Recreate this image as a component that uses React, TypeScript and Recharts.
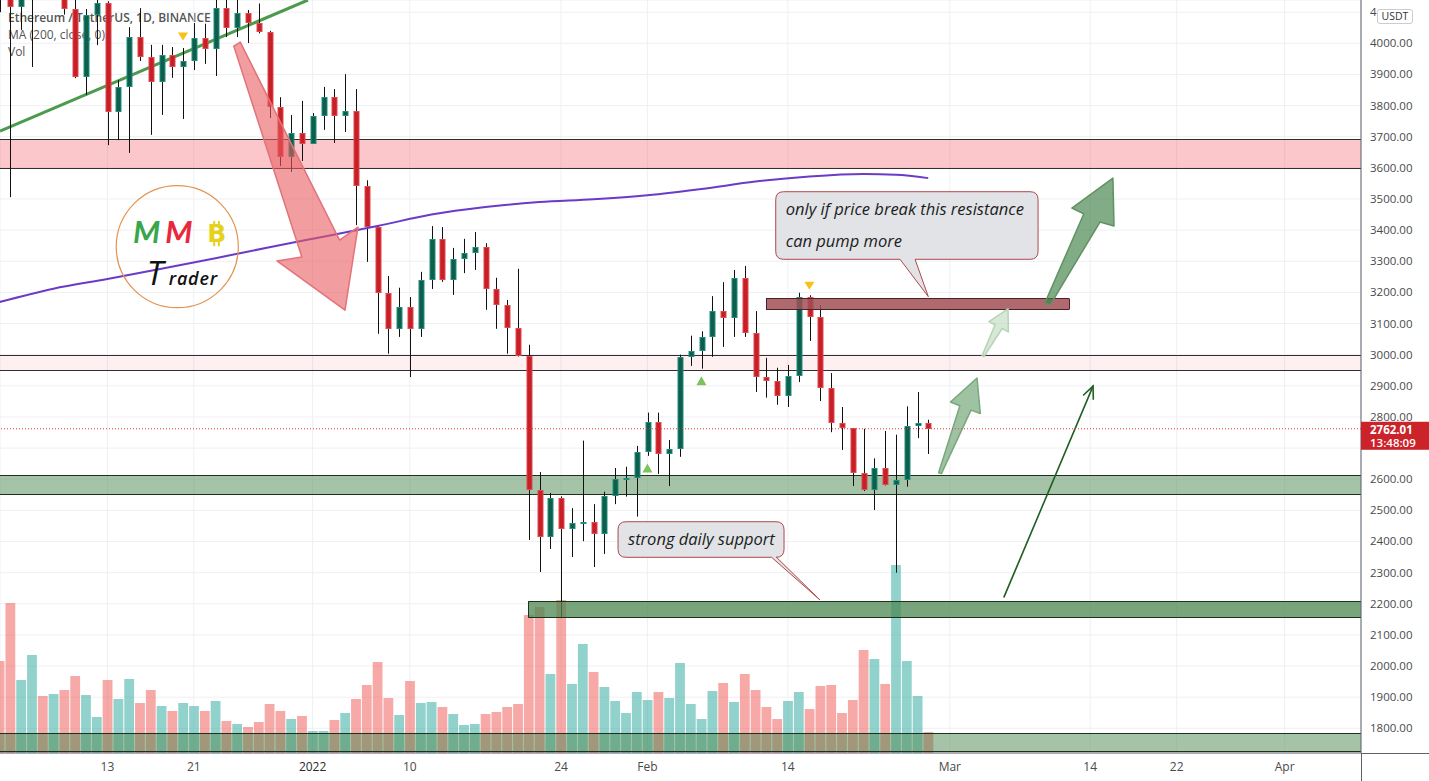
import React from 'react';
import {
  ComposedChart, Bar, Line, Scatter, XAxis, YAxis, CartesianGrid, ReferenceArea, ReferenceLine,
} from 'recharts';

// ---------------- data ----------------
const FIRST_DATE = '2021-12-03';
const ANCHOR_DATE = '2021-12-13'; // day 0 on the x axis

const opens = [
  4585, 4220, 4118, 4195, 4345, 4305, 4432, 4110, 3892, 4091,
  4129, 3779, 3859, 4020, 3956, 3876, 3962, 3924, 3943, 4017,
  3982, 4113, 4049, 4097, 4065, 4036, 3795, 3635, 3712, 3677,
  3766, 3828, 3766, 3782, 3542, 3410, 3198, 3083, 3154, 3083,
  3240, 3372, 3240, 3307, 3327, 3346, 3211, 3160, 3086, 2997,
  2566, 2415, 2540, 2440, 2459, 2464, 2424, 2546, 2601, 2604,
  2686, 2784, 2681, 2697, 2993, 3012, 3056, 3140, 3118, 3246,
  3070, 2929, 2916, 2868, 2932, 3186, 3121, 2893, 2780, 2764,
  2620, 2566, 2636, 2582, 2598, 2771, 2781,
];
const highs = [
  4650, 4240, 4200, 4350, 4425, 4440, 4485, 4190, 4110, 4150,
  4135, 3882, 4052, 4113, 3995, 3995, 3988, 3985, 4065, 4063,
  4145, 4145, 4140, 4107, 4128, 4040, 3827, 3770, 3815, 3776,
  3860, 3853, 3901, 3853, 3560, 3415, 3253, 3215, 3185, 3266,
  3413, 3410, 3343, 3372, 3394, 3358, 3247, 3176, 3276, 3032,
  2623, 2556, 2545, 2507, 2724, 2520, 2560, 2636, 2640, 2707,
  2814, 2814, 2726, 3000, 3061, 3075, 3188, 3233, 3272, 3285,
  3140, 2990, 2958, 2967, 3199, 3191, 3159, 2941, 2832, 2764,
  2762, 2667, 2755, 2743, 2834, 2880, 2791,
];
const lows = [
  4100, 3506, 4043, 3924, 4280, 4220, 4092, 3888, 3834, 3994,
  3673, 3689, 3648, 3943, 3706, 3770, 3889, 3757, 3914, 3934,
  3895, 4020, 4020, 4001, 4032, 3760, 3606, 3587, 3622, 3677,
  3722, 3680, 3715, 3416, 3298, 3067, 3003, 3057, 2928, 3057,
  3211, 3234, 3192, 3262, 3272, 3144, 3083, 3003, 2994, 2405,
  2302, 2376, 2155, 2350, 2401, 2318, 2360, 2520, 2544, 2480,
  2675, 2617, 2578, 2672, 2964, 2955, 2993, 3025, 3057, 3057,
  2880, 2862, 2839, 2832, 2912, 3044, 2851, 2751, 2694, 2578,
  2562, 2501, 2580, 2300, 2576, 2732, 2681,
];
const closes = [
  4220, 4118, 4195, 4345, 4305, 4432, 4110, 3892, 4091, 4129,
  3779, 3859, 4020, 3956, 3876, 3962, 3924, 3943, 4017, 3982,
  4113, 4049, 4097, 4065, 4036, 3795, 3635, 3712, 3677, 3766,
  3828, 3766, 3782, 3542, 3410, 3198, 3083, 3154, 3083, 3240,
  3372, 3240, 3307, 3327, 3346, 3211, 3160, 3086, 2997, 2566,
  2415, 2540, 2440, 2459, 2464, 2424, 2546, 2601, 2604, 2686,
  2784, 2681, 2697, 2993, 3012, 3056, 3140, 3118, 3246, 3070,
  2929, 2916, 2868, 2932, 3186, 3121, 2893, 2780, 2764, 2620,
  2566, 2636, 2582, 2598, 2771, 2781, 2762.01,
];
// volume, thousand ETH
const volumes = [
  460, 750, 365, 490, 285, 295, 315, 385, 290, 180,
  365, 270, 370, 250, 315, 235, 210, 250, 235, 210,
  260, 160, 145, 130, 155, 245, 210, 170, 185, 110,
  110, 165, 200, 270, 340, 455, 275, 190, 360, 250,
  255, 230, 195, 140, 145, 195, 205, 230, 245, 690,
  730, 395, 765, 345, 545, 405, 330, 260, 200, 305,
  265, 305, 275, 450, 245, 170, 310, 350, 255, 395,
  315, 230, 170, 260, 305, 220, 335, 340, 200, 265,
  515, 470, 345, 940, 460, 285, 105,
];

// MA(200, close) (day offset, value)
const maDays = [-10, -5, 0, 5, 10, 15, 20, 25, 30, 35, 40, 45, 50, 55, 60, 65, 70, 73, 76];
const maValues = [3169, 3212, 3243, 3276, 3310, 3345, 3379, 3413, 3450, 3474, 3490, 3499, 3512, 3532, 3556, 3572, 3580, 3578, 3567];

const xTickDates = ['2021-12-13', '2021-12-21', '2022-01-01', '2022-01-10', '2022-01-24', '2022-02-01', '2022-02-14', '2022-03-01', '2022-03-14', '2022-03-22', '2022-04-01'];
const xTickLabels = ['13', '21', '2022', '10', '24', 'Feb', '14', 'Mar', '14', '22', 'Apr'];
const priceTicks = [1800, 1900, 2000, 2100, 2200, 2300, 2400, 2500, 2600, 2700, 2800, 2900, 3000, 3100, 3200, 3300, 3400, 3500, 3600, 3700, 3800, 3900, 4000, 4100];

// signals (day offset, price)
const signalDays = [7, 65, 50, 55];
const signalPrices = [4022, 3221, 2636, 2916];
const signalKinds = ['sell', 'sell', 'buy', 'buy'];

// drawings in (day offset, price)
type Pt = [number, number];
const trendLine: Pt[] = [[-9.944, 3718], [18.57, 4139]];
const redArrow: Pt[] = [[12.3, 4004], [21.5, 3368], [23.2, 3410], [22.0, 3143], [15.7, 3301], [18.0, 3314], [11.7, 3991]];
const bigGreenArrow: Pt[] = [[86.8, 3166], [90.4, 3452], [89.3, 3471], [93.1, 3567], [93.2, 3413], [91.9, 3426], [87.3, 3160]];
const midGreenArrow: Pt[] = [[76.96, 2621], [78.93, 2836], [78.06, 2848], [80.52, 2925], [80.82, 2811], [79.96, 2822], [77.22, 2618]];
const paleGreenArrow: Pt[] = [[80.99, 2997], [82.19, 3096], [81.62, 3106], [83.39, 3147], [83.42, 3073], [82.84, 3084], [81.16, 2994]];
const thinArrow: Pt[] = [[83.02, 2222], [91.26, 2899]];

const zoneResist = { lo: 3600, hi: 3692 };
const zoneLightPink = { lo: 2951, hi: 2998 };
const zoneSupport = { lo: 2553, hi: 2614 };
const zoneDeepSupport = { from: 38.97, lo: 2158, hi: 2210 };
const zoneBase = { lo: 1728, hi: 1786 };
const resistBox = { x1: 60.98, x2: 89.04, lo: 3146, hi: 3181 };

const calloutTop = {
  x1: 61.88, x2: 86.17, top: 3523.4, bottom: 3306.3, tail1: 73.39, tail2: 74.78, tipD: 76.01, tipP: 3186.2,
  lines: ['only if price break this resistance', 'can pump more'],
};
const calloutBottom = {
  x1: 47.28, x2: 62.65, top: 2463.5, bottom: 2349.2, tail1: 61.5, tail2: 61.95, tipD: 65.98, tipP: 2212.1,
  lines: ['strong daily support'],
};
const logoBox = { x1: 0.82, x2: 12.12, lo: 3150.8, hi: 3542.7 };

// ---------------- derived tables ----------------
const DAY_MS = 86400000;
const dayOf = (iso: string) => Math.round((Date.parse(iso + 'T00:00:00Z') - Date.parse(ANCHOR_DATE + 'T00:00:00Z')) / DAY_MS);
const firstDay = dayOf(FIRST_DATE);
const candles = opens.map((o, i) => ({ d: firstDay + i, o, h: highs[i], l: lows[i], c: closes[i], v: volumes[i] }));
const maData = maDays.map((d, i) => ({ d, ma: maValues[i] }));
const xTickDays = xTickDates.map(dayOf);
const signals = signalDays.map((d, i) => ({ d, p: signalPrices[i], kind: signalKinds[i] }));
const lastClose = closes[closes.length - 1];

// ---------------- layout / style ----------------
const W = 1429;
const H = 781;
const AXIS_W = 68;
const AXIS_H = 28;
const X_DOMAIN: [number, number] = [-9.944, 116.07];
const Y_DOMAIN: [number, number] = [1720.7, 4139.1];
const VOL_DOMAIN: [number, number] = [0, 3765];
const FONT = "'Open Sans', 'Noto Sans', sans-serif";
const UP_FILL = '#0d5e4d';
const UP_STROKE = '#1f8f7c';
const DN_FILL = '#c81f26';
const DN_STROKE = '#de4b50';
const AXIS_COLOR = '#5d606b';
const TAG_ABOVE = 7;
const TAG_H = 28;

const crisp = (v: number) => Math.round(v) + 0.5;

const CandleShape = (props: any) => {
  const { x, y, width, height, payload } = props;
  if (!payload || !isFinite(x) || !isFinite(y) || !isFinite(height)) return null;
  const { o, h, l, c } = payload;
  const k = height / (h - l);
  const yO = y + (h - o) * k;
  const yC = y + (h - c) * k;
  const up = c >= o;
  const cx = Math.round(x + width / 2);
  const top = Math.round(Math.min(yO, yC)) + 0.5;
  const bot = Math.max(top + 1, Math.round(Math.max(yO, yC)) - 0.5);
  return (
    <g>
      <line x1={cx + 0.5} x2={cx + 0.5} y1={y} y2={y + height} stroke="#111" strokeWidth={1} />
      <rect x={cx - 2} y={top} width={5} height={bot - top} fill={up ? UP_FILL : DN_FILL} stroke={up ? UP_STROKE : DN_STROKE} strokeWidth={1} />
    </g>
  );
};

const VolumeShape = (props: any) => {
  const { x, y, width, height, payload } = props;
  if (!payload || !isFinite(x) || !isFinite(y)) return null;
  const cx = x + width / 2;
  const up = payload.c >= payload.o;
  return <rect x={cx - 4.9} y={y} width={9.8} height={height} fill={up ? 'rgba(38,166,154,0.5)' : 'rgba(239,83,80,0.5)'} />;
};

const SignalShape = (props: any) => {
  const { cx, cy, payload } = props;
  if (!isFinite(cx) || !isFinite(cy)) return null;
  if (payload.kind === 'sell') {
    return <polygon points={`${cx - 5},${cy - 4} ${cx + 5},${cy - 4} ${cx},${cy + 4}`} fill="#f6c215" />;
  }
  return <polygon points={`${cx - 5},${cy + 4.5} ${cx + 5},${cy + 4.5} ${cx},${cy - 4.5}`} fill="#7cc35c" />;
};

const zoneShape = (fill: string, stroke: string, left: boolean, right: boolean) => (r: any) => {
  const { x, y, width, height } = r;
  const yt = crisp(y);
  const yb = crisp(y + height);
  return (
    <g>
      <rect x={x} y={yt} width={width} height={yb - yt} fill={fill} />
      <line x1={x} x2={x + width} y1={yt} y2={yt} stroke={stroke} strokeWidth={1} />
      <line x1={x} x2={x + width} y1={yb} y2={yb} stroke={stroke} strokeWidth={1} />
      {left && <line x1={crisp(x)} x2={crisp(x)} y1={yt} y2={yb} stroke={stroke} strokeWidth={1} />}
      {right && <line x1={crisp(x + width)} x2={crisp(x + width)} y1={yt} y2={yb} stroke={stroke} strokeWidth={1} />}
    </g>
  );
};

const bbox = (pts: Pt[]) => {
  const ds = pts.map((p) => p[0]);
  const ps = pts.map((p) => p[1]);
  return { x1: Math.min(...ds), x2: Math.max(...ds), y1: Math.min(...ps), y2: Math.max(...ps) };
};
const projectIn = (r: any, b: { x1: number; x2: number; y1: number; y2: number }) => (pt: Pt): Pt => [
  r.x + ((pt[0] - b.x1) / (b.x2 - b.x1)) * r.width,
  r.y + ((b.y2 - pt[1]) / (b.y2 - b.y1)) * r.height,
];

const drawing = (key: string, pts: Pt[], shape: (r: any) => any, z: number) => {
  const b = bbox(pts);
  return (
    <ReferenceArea
      key={key}
      xAxisId="main"
      yAxisId="price"
      x1={b.x1}
      x2={b.x2}
      y1={b.y1}
      y2={b.y2}
      ifOverflow="visible"
      zIndex={z}
      shape={shape}
    />
  );
};

const polygonShape = (pts: Pt[], fill: string, fillOpacity: number, stroke: string) => (r: any) => {
  const P = projectIn(r, bbox(pts));
  const s = pts.map((p) => P(p).join(',')).join(' ');
  return <polygon points={s} fill={fill} fillOpacity={fillOpacity} stroke={stroke} strokeWidth={1.5} strokeLinejoin="round" />;
};

const thinArrowShape = (r: any) => {
  const P = projectIn(r, bbox(thinArrow));
  const [x1, y1] = P(thinArrow[0]);
  const [x2, y2] = P(thinArrow[1]);
  const ang = Math.atan2(y2 - y1, x2 - x1);
  const hl = 13;
  const ha = 0.42;
  const h1 = [x2 - hl * Math.cos(ang - ha), y2 - hl * Math.sin(ang - ha)];
  const h2 = [x2 - hl * Math.cos(ang + ha), y2 - hl * Math.sin(ang + ha)];
  return (
    <g stroke="#1f5f24" strokeWidth={1.6} fill="none" strokeLinecap="round">
      <line x1={x1} y1={y1} x2={x2} y2={y2} />
      <polyline points={`${h1[0]},${h1[1]} ${x2},${y2} ${h2[0]},${h2[1]}`} />
    </g>
  );
};

type Callout = typeof calloutTop;
const calloutPts = (c: Callout): Pt[] => [[c.x1, c.top], [c.x2, c.bottom], [c.tipD, c.tipP]];
const calloutShape = (c: Callout) => (r: any) => {
  const P = projectIn(r, bbox(calloutPts(c)));
  const [L, T] = P([c.x1, c.top]);
  const [R, B] = P([c.x2, c.bottom]);
  const [t1] = P([c.tail1, c.bottom]);
  const [t2] = P([c.tail2, c.bottom]);
  const [tx, ty] = P([c.tipD, c.tipP]);
  const rad = 8;
  const path = `M${L + rad},${T} H${R - rad} Q${R},${T} ${R},${T + rad} V${B - rad} Q${R},${B} ${R - rad},${B} H${t2} L${tx},${ty} L${t1},${B} H${L + rad} Q${L},${B} ${L},${B - rad} V${T + rad} Q${L},${T} ${L + rad},${T} Z`;
  return (
    <g>
      <path d={path} fill="#dfe1e5" fillOpacity={0.95} stroke="#b0474b" strokeWidth={1} />
      {c.lines.map((t, i) => (
        <text key={i} x={L + 10} y={T + 23 + i * 32} fontFamily={FONT} fontStyle="italic" fontSize={16.5} fill="#1c1c1c">{t}</text>
      ))}
    </g>
  );
};

const logoShape = (r: any) => {
  const fx = (f: number) => r.x + f * r.width;
  const fy = (f: number) => r.y + f * r.height;
  const bx = fx(0.823);
  return (
    <g>
      <ellipse cx={r.x + r.width / 2} cy={r.y + r.height / 2} rx={r.width / 2} ry={r.height / 2} fill="none" stroke="#e39450" strokeWidth={1.2} />
      <text x={fx(0.248)} y={fy(0.47)} textAnchor="middle" fontFamily="Lato, sans-serif" fontSize={31} fontWeight={700} fontStyle="italic" fill="#38a64a">M</text>
      <text x={fx(0.514)} y={fy(0.47)} textAnchor="middle" fontFamily="Lato, sans-serif" fontSize={31} fontWeight={700} fontStyle="italic" fill="#e8283b">M</text>
      <rect x={bx - 3.5} y={fy(0.29)} width={2} height={5} fill="#e6d21c" />
      <rect x={bx + 1.2} y={fy(0.29)} width={2} height={5} fill="#e6d21c" />
      <rect x={bx - 3.5} y={fy(0.455)} width={2} height={5} fill="#e6d21c" />
      <rect x={bx + 1.2} y={fy(0.455)} width={2} height={5} fill="#e6d21c" />
      <text x={bx} y={fy(0.465)} textAnchor="middle" fontFamily="'DejaVu Sans', sans-serif" fontSize={25} fontWeight={700} fill="#e6d21c">B</text>
      <text x={fx(0.25)} y={fy(0.815)} fontFamily="'Open Sans', sans-serif" fontSize={33} fontStyle="italic" fill="#111">T</text>
      <text x={fx(0.43)} y={fy(0.815)} fontFamily="'Open Sans', sans-serif" fontSize={18} fontStyle="italic" fontWeight={600} letterSpacing={0.8} fill="#111">rader</text>
    </g>
  );
};

const PriceTag = (props: any) => {
  const vb = props.viewBox || {};
  const x = (vb.x || 0) + (vb.width || 0);
  const y = vb.y || 0;
  return (
    <g>
      <rect x={x} y={y - TAG_ABOVE} width={AXIS_W} height={TAG_H} fill="#cc2229" />
      <text x={x + 9} y={y + 5.5} fontFamily={FONT} fontSize={11.5} fontWeight={700} fill="#fff">{lastClose.toFixed(2)}</text>
      <text x={x + 9} y={y + 18.5} fontFamily={FONT} fontSize={11.5} fontWeight={600} fill="#fff">13:48:09</text>
    </g>
  );
};

// tick label text; the label under the price tag is hidden and the top one is
// mostly covered by the currency badge, as in the reference
const PriceTick = (p: any) => {
  const v = Number(p.payload.value);
  let label = v.toFixed(2);
  if (v === priceTicks[priceTicks.length - 1]) label = label.slice(0, 1);
  return (
    <text x={p.x + 9} y={p.y + 4} fontFamily={FONT} fontSize={11.5} fill="#4a4a4a">{label}</text>
  );
};

const DateTick = (p: any) => {
  const i = xTickDays.indexOf(p.payload.value);
  const label = i >= 0 ? xTickLabels[i] : '';
  return (
    <text x={p.x} y={p.y + 18} textAnchor="middle" fontFamily={FONT} fontSize={12} fill={label === '2022' ? '#2a2a2a' : '#4a4a4a'}>{label}</text>
  );
};

// the tick hidden by the live price tag
const hiddenByTag = (v: number) => v < lastClose && v > lastClose - 80;
const axisTicks = priceTicks.filter((v) => !hiddenByTag(v));

export default function App() {
  return (
    <div style={{ position: 'absolute', left: 0, top: 0, width: W, height: H, background: '#fff', overflow: 'hidden' }}>
      <div style={{ position: 'absolute', left: 8, top: 8.5, zIndex: 0, fontFamily: FONT, fontSize: 12, lineHeight: '17px', color: '#555', whiteSpace: 'nowrap' }}>
        <div style={{ fontWeight: 600 }}>Ethereum / TetherUS, 1D, BINANCE</div>
        <div>MA (200, close, 0)</div>
        <div>Vol</div>
      </div>
      <div style={{ position: 'absolute', left: 0, top: 0, zIndex: 1 }}>
        <ComposedChart width={W} height={H} data={candles} margin={{ top: 0, right: 0, bottom: 0, left: 0 }}>
          <CartesianGrid xAxisId="main" yAxisId="grid" stroke="#eef0f4" strokeWidth={1} />
          <XAxis
            xAxisId="main"
            dataKey="d"
            type="number"
            domain={X_DOMAIN}
            allowDataOverflow
            ticks={xTickDays}
            interval={0}
            height={AXIS_H}
            tickLine={false}
            tickSize={0}
            tickMargin={0}
            axisLine={{ stroke: AXIS_COLOR }}
            tick={DateTick}
          />
          <XAxis xAxisId="vx" dataKey="d" type="number" domain={X_DOMAIN} allowDataOverflow hide />
          <YAxis
            yAxisId="price"
            orientation="right"
            type="number"
            domain={Y_DOMAIN}
            allowDataOverflow
            ticks={axisTicks}
            interval={0}
            width={AXIS_W}
            tickLine={false}
            tickSize={0}
            tickMargin={0}
            axisLine={{ stroke: AXIS_COLOR }}
            tick={PriceTick}
          />
          <YAxis yAxisId="grid" type="number" domain={Y_DOMAIN} allowDataOverflow ticks={priceTicks} hide />
          <YAxis yAxisId="vol" type="number" domain={VOL_DOMAIN} allowDataOverflow hide />

          <ReferenceArea xAxisId="main" yAxisId="price" y1={zoneResist.lo} y2={zoneResist.hi} ifOverflow="visible" zIndex={50}
            shape={zoneShape('rgba(242,54,69,0.28)', '#2f2f2f', false, false)} />
          <ReferenceArea xAxisId="main" yAxisId="price" y1={zoneLightPink.lo} y2={zoneLightPink.hi} ifOverflow="visible" zIndex={50}
            shape={zoneShape('rgba(242,54,69,0.08)', '#2f2f2f', false, false)} />
          <ReferenceArea xAxisId="main" yAxisId="price" y1={zoneSupport.lo} y2={zoneSupport.hi} ifOverflow="visible" zIndex={50}
            shape={zoneShape('rgba(76,135,80,0.5)', '#1e2e20', false, false)} />

          <ReferenceLine xAxisId="main" yAxisId="price" segment={[{ x: trendLine[0][0], y: trendLine[0][1] }, { x: trendLine[1][0], y: trendLine[1][1] }]}
            stroke="#4b9a4e" strokeWidth={3} ifOverflow="visible" zIndex={60} />

          <Bar xAxisId="vx" yAxisId="vol" dataKey="v" shape={VolumeShape} isAnimationActive={false} zIndex={250} />
          <Bar xAxisId="main" yAxisId="price" dataKey={(e: any) => [e.l, e.h]} shape={CandleShape} isAnimationActive={false} zIndex={300} />

          <ReferenceArea xAxisId="main" yAxisId="price" x1={zoneDeepSupport.from} y1={zoneDeepSupport.lo} y2={zoneDeepSupport.hi} ifOverflow="visible" zIndex={350}
            shape={zoneShape('rgba(76,135,80,0.75)', '#1b321d', true, false)} />
          <ReferenceArea xAxisId="main" yAxisId="price" y1={zoneBase.lo} y2={zoneBase.hi} ifOverflow="visible" zIndex={350}
            shape={zoneShape('rgba(76,135,80,0.5)', '#1e2e20', false, false)} />

          <Line xAxisId="main" yAxisId="price" data={maData} dataKey="ma" type="monotone" stroke="#6a3ac8" strokeWidth={2} dot={false} activeDot={false} isAnimationActive={false} zIndex={400} />

          <ReferenceArea xAxisId="main" yAxisId="price" x1={resistBox.x1} x2={resistBox.x2} y1={resistBox.lo} y2={resistBox.hi} ifOverflow="visible" zIndex={500}
            shape={zoneShape('rgba(160,80,86,0.85)', '#4e2225', true, true)} />

          {drawing('redArrow', redArrow, polygonShape(redArrow, '#ea5b60', 0.6, '#e27478'), 700)}
          {drawing('bigGreen', bigGreenArrow, polygonShape(bigGreenArrow, '#3f7f45', 0.65, '#5f9263'), 700)}
          {drawing('midGreen', midGreenArrow, polygonShape(midGreenArrow, '#5f9a66', 0.6, '#79a87c'), 700)}
          {drawing('paleGreen', paleGreenArrow, polygonShape(paleGreenArrow, '#bcd8bc', 0.6, '#b7d3b7'), 700)}
          {drawing('thinArrow', thinArrow, thinArrowShape, 700)}
          {drawing('calloutTop', calloutPts(calloutTop), calloutShape(calloutTop), 710)}
          {drawing('calloutBottom', calloutPts(calloutBottom), calloutShape(calloutBottom), 710)}
          {drawing('logo', [[logoBox.x1, logoBox.lo], [logoBox.x2, logoBox.hi]], logoShape, 720)}

          <Scatter xAxisId="main" yAxisId="price" data={signals} dataKey="p" shape={SignalShape} isAnimationActive={false} zIndex={650} />

          <ReferenceLine xAxisId="main" yAxisId="price" y={lastClose} stroke="#e0393f" strokeDasharray="1 2" strokeWidth={1} zIndex={800}
            label={<PriceTag />} />
        </ComposedChart>
      </div>
      <div style={{ position: 'absolute', zIndex: 2, left: 1377, top: 9, width: 34, height: 13, border: '1px solid #c9ccd3', borderRadius: 3, background: '#fff', fontFamily: FONT, fontSize: 10.5, lineHeight: '13px', color: '#333', textAlign: 'center' }}>USDT</div>
      <div style={{ position: 'absolute', zIndex: 2, left: W - AXIS_W, top: H - AXIS_H, width: AXIS_W, height: 1, background: AXIS_COLOR }} />
      <div style={{ position: 'absolute', zIndex: 2, left: W - AXIS_W, top: H - AXIS_H, width: 1, height: AXIS_H, background: AXIS_COLOR }} />
    </div>
  );
}
